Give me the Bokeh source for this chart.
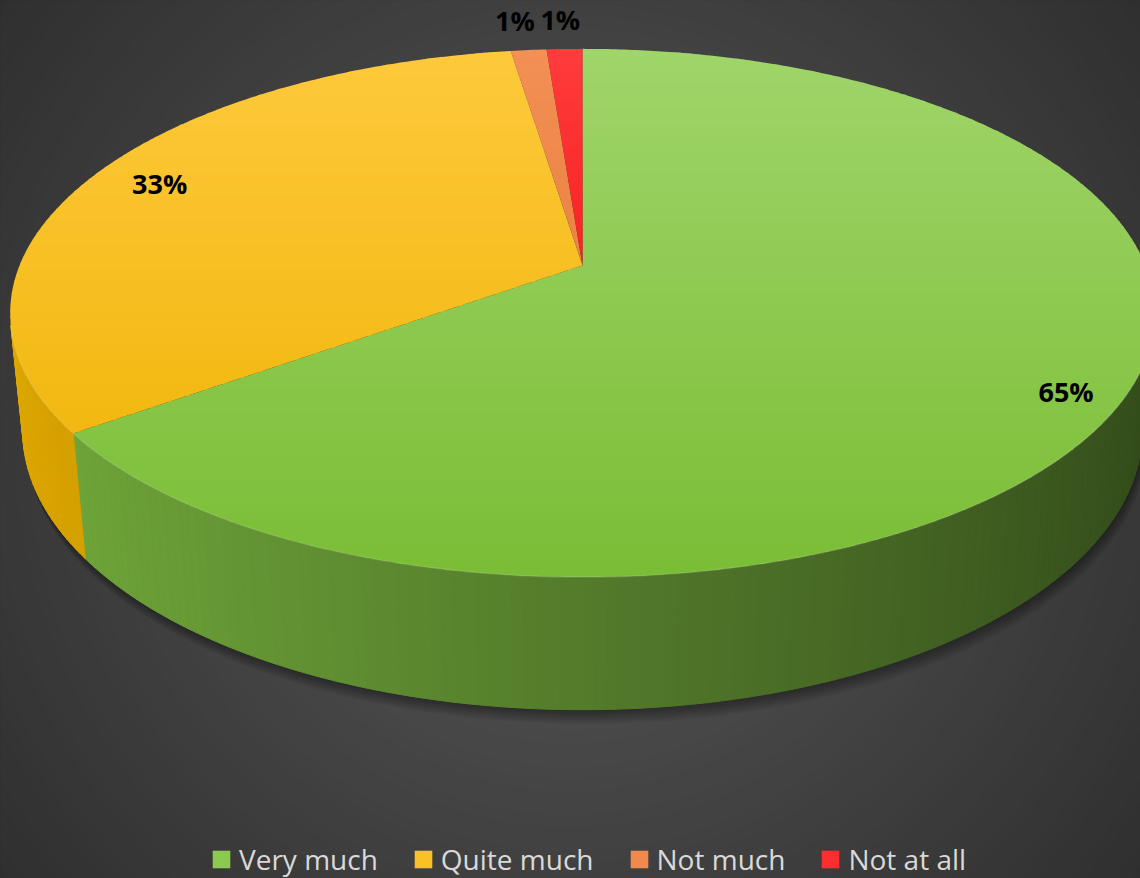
import numpy as np
from bokeh.plotting import figure
from bokeh.models import Range1d, Legend, LegendItem, ColumnDataSource
from bokeh.core.properties import value
from bokeh.embed import file_html
from bokeh.resources import INLINE

# ---------------- data ----------------
categories = ["Very much", "Quite much", "Not much", "Not at all"]
values = [65.0, 32.6, 1.2, 1.2]
labels = ["65%", "33%", "1%", "1%"]

# ---------------- style ----------------
top_light = ["#a0d56a", "#fec93c", "#f39055", "#ff3b3b"]
top_dark = ["#7abd35", "#edb200", "#e06d28", "#ee0000"]
wall_base = ["#84c444", "#ffc000", "#ed7d31", "#f00000"]
label_dx = [8, 8, -7, -2]
label_dy = [16, 0, -3, -3]

PHI = np.radians(27.0)
S, C = np.sin(PHI), np.cos(PHI)
DIST = 4.956
FOC = 2790.0
CX, CY = 582.0, 265.0
THICK = 0.236

W, H = 1140, 878


def proj(x, y, h):
    up = y * S + h * C
    dep = DIST + y * C - h * S
    return CX + FOC * x / dep, CY - FOC * up / dep


def hex2rgb(h):
    h = h.lstrip("#")
    return np.array([int(h[i:i + 2], 16) for i in (0, 2, 4)], dtype=float)


def rgb2hex(c):
    c = np.clip(np.round(c), 0, 255).astype(int)
    return "#%02x%02x%02x" % tuple(c)


def lerp(c1, c2, t):
    return rgb2hex(hex2rgb(c1) * (1 - t) + hex2rgb(c2) * t)


def clip_y(pts, lo, hi):
    def clip(pts, inside, yv):
        out = []
        n = len(pts)
        for i in range(n):
            cur, prev = pts[i], pts[i - 1]
            cin, pin = inside(cur), inside(prev)
            if cin != pin:
                t = (yv - prev[1]) / (cur[1] - prev[1])
                out.append((prev[0] + t * (cur[0] - prev[0]), yv))
            if cin:
                out.append(cur)
        return out
    pts = clip(pts, lambda q: q[1] >= lo, lo)
    if len(pts) < 3:
        return []
    pts = clip(pts, lambda q: q[1] <= hi, hi)
    return pts if len(pts) >= 3 else []


# ---------------- figure ----------------
p = figure(width=W, height=H, x_range=Range1d(0, W), y_range=Range1d(H, 0),
           output_backend="svg", toolbar_location=None, min_border=0,
           x_axis_location=None, y_axis_location=None)
p.grid.visible = False
p.outline_line_color = None
p.background_fill_color = "#2d2d2d"
p.border_fill_color = "#2d2d2d"

# background radial gradient
radii = np.arange(760, 0, -12.0)
bg_cols = [rgb2hex(np.array([1, 1, 1]) * (45 + 45 * (1 - r / 760.0))) for r in radii]
p.ellipse(x=[570] * len(radii), y=[439] * len(radii), width=list(2 * radii), height=list(2 * radii),
          fill_color=bg_cols, line_color=None)

total = float(sum(values))
fracs = np.cumsum([0.0] + [v / total for v in values])
angles = 2 * np.pi * fracs  # clockwise from 12 o'clock

# shadow under the pie
th = np.linspace(0, 2 * np.pi, 240)
bx, by = proj(np.sin(th), np.cos(th), -THICK)
for d in range(2, 16, 2):
    p.patch(list(bx + d * 0.3), list(by + d), fill_color="black", fill_alpha=0.06, line_color=None)

# side walls
vis = -1.0 / (DIST * C)
wx, wy, wc = [], [], []
for i in range(len(values)):
    a0, a1 = angles[i], angles[i + 1]
    n = max(2, int(np.degrees(a1 - a0)))
    ts = np.linspace(a0, a1, n + 1)
    for t0, t1 in zip(ts[:-1], ts[1:]):
        tm = 0.5 * (t0 + t1)
        if np.cos(tm) >= vis:
            continue
        xs0, ys0 = proj(np.sin([t0, t1]), np.cos([t0, t1]), 0.0)
        xs1, ys1 = proj(np.sin([t1, t0]), np.cos([t1, t0]), -THICK)
        wx.append(list(xs0) + list(xs1))
        wy.append(list(ys0) + list(ys1))
        k = 0.63 - 0.25 * np.sin(tm)
        wc.append(rgb2hex(hex2rgb(wall_base[i]) * k))
p.patches(xs=wx, ys=wy, fill_color=wc, line_color=wc, line_width=1)

# top faces with vertical gradient (one renderer per slice)
ytop, ybot = proj(0, 1, 0)[1], proj(0, -1, 0)[1]
top_renderers, mid_index = [], []
for i in range(len(values)):
    a0, a1 = angles[i], angles[i + 1]
    n = max(4, int(np.degrees(a1 - a0) * 2))
    ts = np.linspace(a0, a1, n + 1)
    ax, ay = proj(np.sin(ts), np.cos(ts), 0.0)
    poly = [(CX, CY)] + list(zip(ax, ay))
    tx, ty, tc = [], [], []
    for y0 in np.arange(ytop - 2, ybot + 4, 6.0):
        pc = clip_y(poly, y0, y0 + 7)
        if not pc:
            continue
        t = np.clip((y0 + 3 - ytop) / (ybot - ytop), 0, 1)
        tx.append([q[0] for q in pc])
        ty.append([q[1] for q in pc])
        tc.append(lerp(top_light[i], top_dark[i], t))
    src = ColumnDataSource(dict(xs=tx, ys=ty, color=tc))
    r = p.patches(xs="xs", ys="ys", fill_color="color", line_color=None, source=src)
    top_renderers.append(r)
    mid_index.append(len(tx) // 2)

# highlight along front top edge
he = np.linspace(np.arccos(vis), 2 * np.pi - np.arccos(vis), 200)
hx, hy = proj(np.sin(he), np.cos(he), 0.0)
p.line(list(hx), list(hy), line_color="white", line_alpha=0.15, line_width=1.5)

# data labels
lx, ly = [], []
for i in range(len(values)):
    am = 0.5 * (angles[i] + angles[i + 1])
    frac = values[i] / total
    r = 0.88 if frac > 0.05 else 1.15
    x, y = proj(r * np.sin(am), r * np.cos(am), 0.0)
    lx.append(x + label_dx[i])
    ly.append(y + label_dy[i])
p.text(x=lx, y=ly, text=labels, text_font=value("Open Sans"), text_font_style="bold",
       text_font_size="27px", text_color="black", text_align="center", text_baseline="middle")

# legend
items = [LegendItem(label=cat, renderers=[r], index=k)
         for cat, r, k in zip(categories, top_renderers, mid_index)]
legend = Legend(items=items, orientation="horizontal", location=(210, 0),
                label_text_font="Open Sans", label_text_font_size="28px",
                label_text_color="#d9d9d9", glyph_width=22, glyph_height=22,
                spacing=34, label_standoff=7, background_fill_alpha=0,
                border_line_alpha=0, padding=0, margin=0, label_height=30)
p.add_layout(legend)

html = file_html(p, INLINE)
html = html.replace("</head>",
                    "<style>html,body{margin:0;padding:0;background:#2d2d2d;overflow:hidden;}</style></head>", 1)
open("out.html", "w").write(html)
